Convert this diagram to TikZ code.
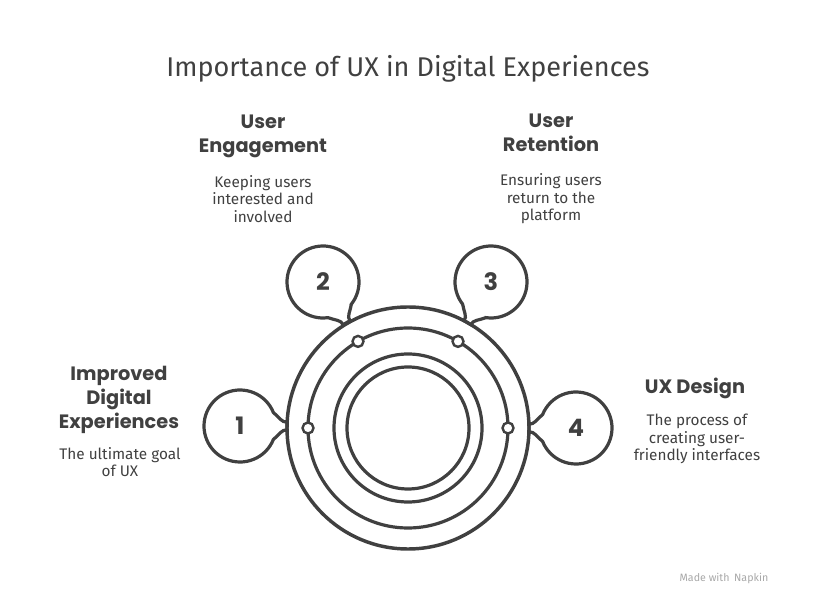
\documentclass[tikz,border=0pt]{standalone}
\usepackage{fontspec}
\usepackage{xcolor}
\usetikzlibrary{calc}
\setmainfont{Fira Sans}
\newfontfamily\headfont{Poppins}
\definecolor{ink}{HTML}{404040}
\definecolor{mark}{HTML}{A8A8A8}

\begin{document}
\begin{tikzpicture}[x=0.75pt, y=0.75pt,
    ring/.style={draw=ink, line width=2.4pt},
    head/.style={align=center, text=ink, font=\headfont\bfseries\fontsize{14.5}{18}\selectfont},
    desc/.style={align=center, text=ink, font=\fontsize{11.5}{13.1}\selectfont},
    num/.style={text=ink, font=\headfont\bfseries\fontsize{18}{20}\selectfont}]
    \useasboundingbox (0,0) rectangle (816,606);

    % Title
    \node[text=ink, font=\fontsize{20.3}{24}\selectfont] (title) at (408,537) {Importance of UX in Digital Experiences};

    % Rings
    \coordinate (c) at (408,178);
    \draw[ring, line width=2.6pt] (c) circle (121);
    \draw[ring] (c) circle (100);
    \draw[ring] (c) circle (74);
    \draw[ring] (c) circle (61);

    % Dots on the middle ring
    \foreach \a [count=\i] in {180,120,60,0}
        \draw[draw=ink, fill=white, line width=1.8pt] ($(c)+(\a:100)$) circle (5.5) coordinate (d\i);

    % Numbered bubbles
    \foreach \n/\px/\py/\a in {1/240/180/0, 2/323/324/-60, 3/491/324/240, 4/576/178/180} {
        \begin{scope}[shift={(\px,\py)}, rotate=\a]
            \draw[ring] (22:36) arc[start angle=22, end angle=338, radius=36]
                .. controls (39,-9) and (42,-3) .. (47,-4) -- (47,4)
                .. controls (42,3) and (39,9) .. cycle;
        \end{scope}
        \node[num] (b\n) at (\px,\py) {\n};
    }

    % Labels
    \node[head] (h1) at (119,206) {Improved\\Digital\\Experiences};
    \node[desc] (t1) at (120,144) {The ultimate goal\\of UX};
    \node[head] (h2) at (263,470) {User\\Engagement};
    \node[desc] (t2) at (263,407) {Keeping users\\interested and\\involved};
    \node[head] (h3) at (551,473) {User\\Retention};
    \node[desc] (t3) at (551,407) {Ensuring users\\return to the\\platform};
    \node[head] (h4) at (695,218) {UX Design};
    \node[desc] (t4) at (697,167) {The process of\\creating user-\\friendly interfaces};

    % Footer
    \node[text=mark, font=\fontsize{8}{10}\selectfont] (foot) at (724,28) {Made with \,Napkin};
\end{tikzpicture}
\end{document}
